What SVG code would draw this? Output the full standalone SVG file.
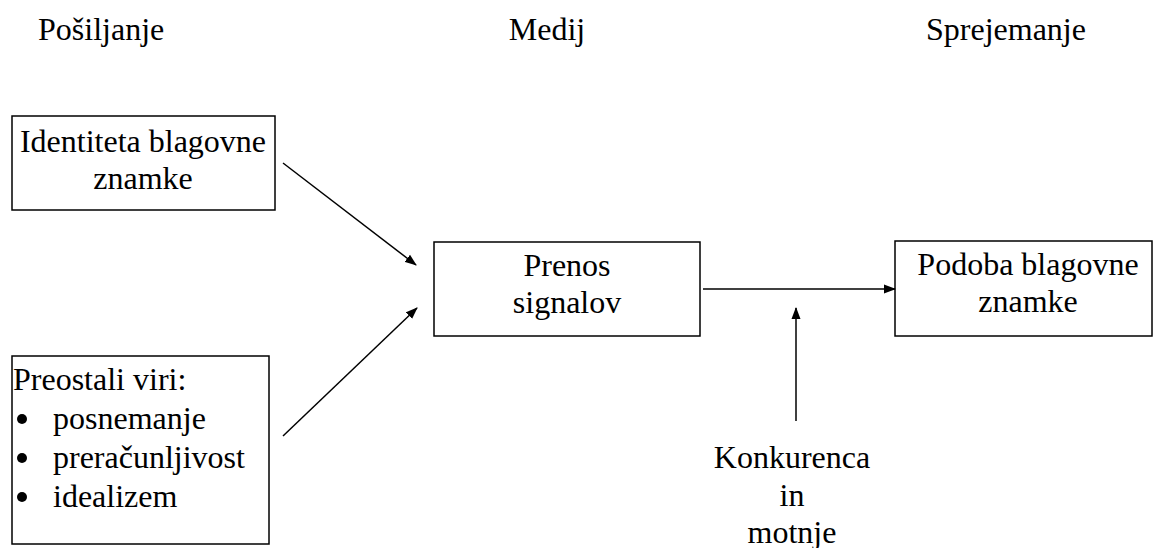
<svg xmlns="http://www.w3.org/2000/svg" width="1153" height="548" viewBox="0 0 1153 548">
<defs>
<style>
text{font-family:'Liberation Serif','Times New Roman',serif;font-size:32px;fill:#000}
.c{text-anchor:middle}
.box{fill:#fff;stroke:#000;stroke-width:1.5}
.ln{stroke:#000;stroke-width:1.5;fill:none}
</style>
<marker id="ah" markerWidth="12" markerHeight="10" refX="11" refY="5" orient="auto" markerUnits="userSpaceOnUse">
<path d="M0,0.5 L12,5 L0,9.5 Z" fill="#000"/>
</marker>
</defs>
<rect width="1153" height="548" fill="#fff"/>
<g id="headers">
<text x="38" y="40">Pošiljanje</text>
<text class="c" x="547" y="40">Medij</text>
<text x="926" y="40">Sprejemanje</text>
</g>
<g id="identiteta">
<rect class="box" x="12" y="116" width="263" height="94"/>
<text class="c" x="143" y="152">Identiteta blagovne</text>
<text class="c" x="143" y="189">znamke</text>
</g>
<g id="preostali">
<rect class="box" x="12" y="356" width="257" height="188"/>
<text x="13" y="390">Preostali viri:</text>
<circle cx="22" cy="419" r="5"/>
<text x="53" y="429">posnemanje</text>
<circle cx="22" cy="458" r="5"/>
<text x="53" y="468">preračunljivost</text>
<circle cx="22" cy="497" r="5"/>
<text x="53" y="507">idealizem</text>
</g>
<g id="prenos">
<rect class="box" x="434" y="242" width="266" height="94"/>
<text class="c" x="567" y="276">Prenos</text>
<text class="c" x="567" y="313">signalov</text>
</g>
<g id="podoba">
<rect class="box" x="895" y="241" width="257" height="95"/>
<text class="c" x="1028" y="275">Podoba blagovne</text>
<text class="c" x="1028" y="312">znamke</text>
</g>
<g id="konkurenca">
<text class="c" x="792" y="468">Konkurenca</text>
<text class="c" x="792" y="506">in</text>
<text class="c" x="792" y="543">motnje</text>
</g>
<g id="connectors">
<line class="ln" x1="283" y1="163" x2="416" y2="265" marker-end="url(#ah)"/>
<line class="ln" x1="283" y1="436" x2="417" y2="308" marker-end="url(#ah)"/>
<line class="ln" x1="703" y1="289" x2="895" y2="289" marker-end="url(#ah)"/>
<line class="ln" x1="796" y1="421" x2="796" y2="308" marker-end="url(#ah)"/>
</g>
</svg>
